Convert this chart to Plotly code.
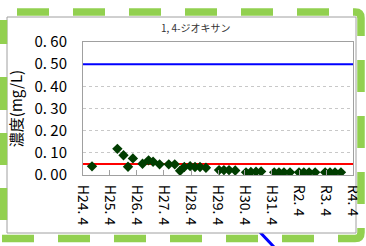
import plotly.graph_objects as go

# ---- data ----
dates = ["2012-08-01", "2013-07-10", "2013-10-01", "2013-12-01", "2014-02-05",
         "2014-06-15", "2014-09-05", "2014-11-05", "2015-02-01",
         "2015-06-05", "2015-08-25", "2015-11-05", "2016-01-01",
         "2016-03-20", "2016-05-25", "2016-08-01", "2016-10-20",
         "2017-04-15", "2017-06-20", "2017-08-28", "2017-11-20",
         "2018-04-15", "2018-06-20", "2018-08-28", "2018-11-05",
         "2019-05-01", "2019-07-05", "2019-09-10", "2019-12-01",
         "2020-04-01", "2020-06-05", "2020-08-15", "2020-11-05",
         "2021-03-20", "2021-05-25", "2021-08-01", "2021-10-20"]
values = [0.039, 0.118, 0.089, 0.037, 0.075,
          0.051, 0.066, 0.060, 0.048,
          0.048, 0.048, 0.019, 0.036,
          0.040, 0.036, 0.036, 0.033,
          0.022, 0.022, 0.022, 0.020,
          0.012, 0.014, 0.015, 0.016,
          0.012, 0.012, 0.012, 0.012,
          0.012, 0.012, 0.012, 0.012,
          0.012, 0.012, 0.012, 0.012]

x_start, x_end = "2012-04-01", "2022-04-01"
guideline = 0.50          # blue reference
quant_limit = 0.05        # red reference

xtick_vals = ["2012-04-01", "2013-04-01", "2014-04-01", "2015-04-01", "2016-04-01",
              "2017-04-01", "2018-04-01", "2019-04-01", "2020-04-01", "2021-04-01",
              "2022-04-01"]
xtick_text = ["H24. 4", "H25. 4", "H26. 4", "H27. 4", "H28. 4", "H29. 4",
              "H30. 4", "H31. 4", "R2. 4", "R3. 4", "R4. 4"]
ytick_vals = [0.0, 0.1, 0.2, 0.3, 0.4, 0.5, 0.6]
ytick_text = ["0. 00", "0. 10", "0. 20", "0. 30", "0. 40", "0. 50", "0. 60"]

title_text = "1, 4-ジオキサン"
ytitle = "濃度(mg/L)"

W, H = 366, 246
L, R, T, B = 83, 353, 42, 175

def px(x):
    return (x - L) / (R - L)

def py(y):
    return (B - y) / (B - T)

def path(pts):
    """pts: list of (cmd, x, y) in pixel coords -> paper path string"""
    out = []
    for p in pts:
        cmd = p[0]
        nums = p[1:]
        coords = []
        for i in range(0, len(nums), 2):
            coords.append(f"{px(nums[i]):.5f},{py(nums[i+1]):.5f}")
        out.append(cmd + " " + " ".join(coords))
    return " ".join(out)

FONT = "Noto Sans CJK JP, sans-serif"
GREEN = "#92D050"
GW = 7.5

fig = go.Figure()
fig.add_trace(go.Scatter(x=[x_start, x_end], y=[guideline, guideline], mode="lines",
                         line=dict(color="#0000FF", width=2), hoverinfo="skip"))
fig.add_trace(go.Scatter(x=[x_start, x_end], y=[quant_limit, quant_limit], mode="lines",
                         line=dict(color="#FF0000", width=2), hoverinfo="skip"))
fig.add_trace(go.Scatter(x=dates, y=values, mode="markers",
                         marker=dict(symbol="diamond", size=8, color="#003d00")))

shapes = [
    # blue arrow fragment below
    dict(type="line", xref="paper", yref="paper", x0=px(257), y0=py(229), x1=px(274), y1=py(247),
         line=dict(color="#0000FF", width=3), layer="below"),
    # chart area box
    dict(type="rect", xref="paper", yref="paper", x0=px(7), y0=py(17), x1=px(356), y1=py(233),
         fillcolor="white", line=dict(color="#A0A0A0", width=1), layer="below"),
]

# green dashed decorative frame (segments in pixel coords)
top_y, bot_y, left_x, right_x = 12, 238.5, 3.5, 361
seg_paths = []
for a, b in [(17, 49), (73, 105), (129, 161), (185, 217), (241, 273), (297, 329)]:
    seg_paths.append(path([("M", a, top_y), ("L", b, top_y)]))
seg_paths.append(path([("M", 353, top_y), ("L", 355, top_y), ("Q", right_x, top_y, right_x, top_y + 6),
                       ("L", right_x, 36)]))
for a, b in [(60, 92), (116, 148), (172, 204)]:
    seg_paths.append(path([("M", right_x, a), ("L", right_x, b)]))
seg_paths.append(path([("M", right_x, 228), ("L", right_x, bot_y - 6), ("Q", right_x, bot_y, right_x - 6, bot_y),
                       ("L", 338, bot_y)]))
for a, b in [(282, 314), (226, 258), (170, 202), (114, 146), (58, 90), (2, 34)]:
    seg_paths.append(path([("M", a, bot_y), ("L", b, bot_y)]))
for a, b in [(188, 220), (133, 165), (77, 110), (20, 44)]:
    seg_paths.append(path([("M", left_x, a), ("L", left_x, b)]))
for sp in seg_paths:
    shapes.append(dict(type="path", xref="paper", yref="paper", path=sp,
                       line=dict(color=GREEN, width=GW), layer="above"))

fig.update_layout(
    width=W, height=H,
    margin=dict(l=L, r=W - R, t=T, b=H - B, autoexpand=False),
    paper_bgcolor="white", plot_bgcolor="white",
    showlegend=False,
    shapes=shapes,
    annotations=[dict(text=title_text, xref="paper", yref="paper", x=px(196), y=py(28),
                      showarrow=False, font=dict(family=FONT, size=10, color="#333333"),
                      xanchor="center", yanchor="middle")],
    xaxis=dict(type="date", range=[x_start, x_end], tickvals=xtick_vals, ticktext=xtick_text,
               tickangle=90, ticks="inside", ticklen=5, tickcolor="#A0A0A0",
               showgrid=False, showline=True, linecolor="#A0A0A0", mirror=True,
               automargin=False, ticklabelstandoff=6,
               tickfont=dict(family=FONT, size=14, color="#000000")),
    yaxis=dict(range=[0, 0.6], tickvals=ytick_vals, ticktext=ytick_text,
               showgrid=True, gridcolor="#C8C8C8", griddash="dot", gridwidth=1,
               showline=True, linecolor="#A0A0A0", mirror=True, zeroline=False,
               ticks="", ticklabelstandoff=12, automargin=False,
               tickfont=dict(family=FONT, size=15, color="#000000"),
               title=dict(text=ytitle, standoff=8, font=dict(family=FONT, size=15, color="#000000"))),
)

fig.write_html("out.html", config={"displayModeBar": False},
               post_script="document.body.style.margin='0';document.body.style.overflow='hidden';")
